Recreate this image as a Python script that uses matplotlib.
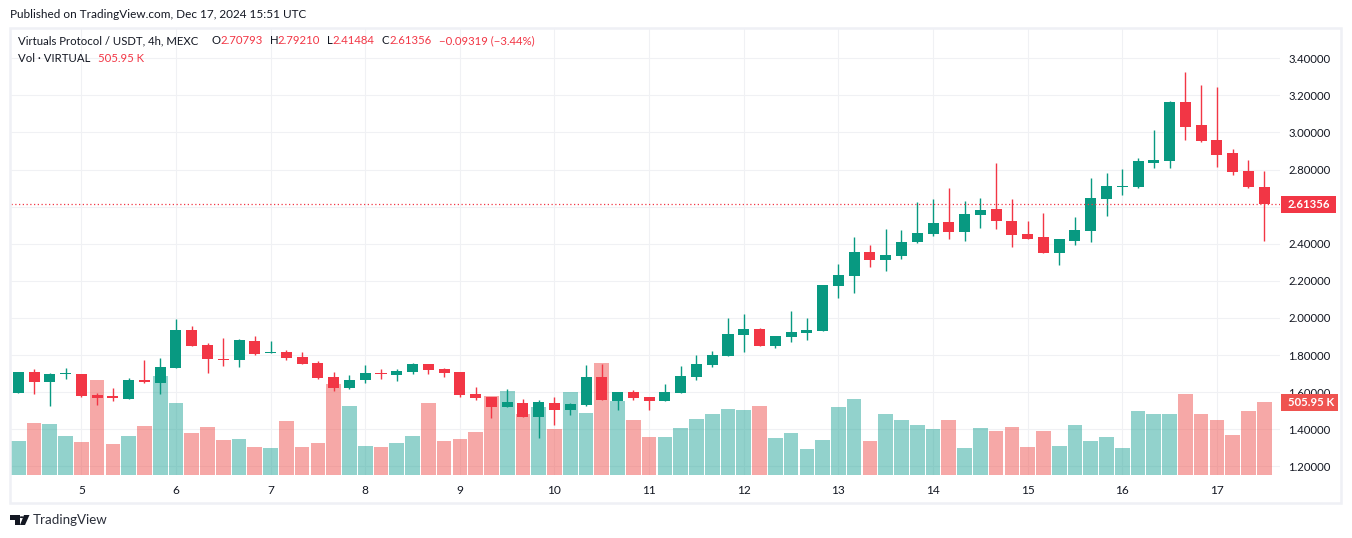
#!/usr/bin/env python3
"""Virtuals Protocol / USDT 4h candles with volume, TradingView style."""
import matplotlib
matplotlib.use("Agg")
import matplotlib.pyplot as plt
from matplotlib.patches import Circle, Polygon, Rectangle

W, H = 1352, 538
UP = "#089981"
DOWN = "#F23645"
VOL_UP = "#26A69A"
VOL_DOWN = "#EF5350"
GRID = "#F0F1F4"
BORDER = "#EFF0F5"
TEXT = "#131722"

opens = [1.595, 1.708, 1.655, 1.699, 1.698, 1.584, 1.579, 1.563, 1.665, 1.649,
         1.730, 1.935, 1.854, 1.779, 1.773, 1.876, 1.811, 1.816, 1.789, 1.757,
         1.681, 1.622, 1.665, 1.703, 1.692, 1.708, 1.752, 1.725, 1.708, 1.590,
         1.574, 1.520, 1.541, 1.466, 1.541, 1.504, 1.531, 1.681, 1.552, 1.601,
         1.574, 1.552, 1.595, 1.682, 1.746, 1.795, 1.908, 1.940, 1.849, 1.897,
         1.919, 1.930, 2.172, 2.226, 2.356, 2.312, 2.334, 2.409, 2.453, 2.517,
         2.463, 2.555, 2.587, 2.523, 2.453, 2.436, 2.350, 2.415, 2.469, 2.641,
         2.708, 2.706, 2.835, 2.846, 3.164, 3.040, 2.960, 2.889, 2.792, 2.70793]
closes = [1.708, 1.655, 1.698, 1.703, 1.579, 1.568, 1.568, 1.665, 1.655, 1.735,
          1.935, 1.849, 1.779, 1.773, 1.881, 1.805, 1.816, 1.784, 1.752, 1.676,
          1.622, 1.665, 1.703, 1.699, 1.714, 1.752, 1.719, 1.703, 1.584, 1.568,
          1.520, 1.547, 1.466, 1.547, 1.504, 1.536, 1.681, 1.558, 1.601, 1.568,
          1.552, 1.601, 1.687, 1.752, 1.800, 1.913, 1.940, 1.849, 1.903, 1.924,
          1.935, 2.178, 2.232, 2.356, 2.312, 2.339, 2.409, 2.458, 2.512, 2.463,
          2.560, 2.582, 2.523, 2.447, 2.426, 2.350, 2.426, 2.474, 2.647, 2.711,
          2.711, 2.846, 2.852, 3.164, 3.030, 2.954, 2.879, 2.787, 2.706, 2.61356]
highs = [1.708, 1.725, 1.703, 1.730, 1.698, 1.595, 1.622, 1.676, 1.773, 1.784,
         1.994, 1.957, 1.865, 1.892, 1.886, 1.903, 1.876, 1.827, 1.816, 1.768,
         1.708, 1.692, 1.746, 1.725, 1.725, 1.757, 1.752, 1.730, 1.708, 1.628,
         1.574, 1.617, 1.563, 1.558, 1.574, 1.541, 1.746, 1.752, 1.601, 1.611,
         1.574, 1.644, 1.741, 1.800, 1.822, 2.000, 2.021, 1.946, 1.903, 2.037,
         2.000, 2.178, 2.291, 2.436, 2.393, 2.480, 2.474, 2.625, 2.641, 2.700,
         2.631, 2.647, 2.836, 2.641, 2.523, 2.566, 2.426, 2.544, 2.755, 2.782,
         2.803, 2.862, 3.013, 3.170, 3.326, 3.256, 3.245, 2.911, 2.852, 2.79210]
lows = [1.595, 1.590, 1.525, 1.671, 1.574, 1.531, 1.552, 1.563, 1.649, 1.590,
        1.730, 1.849, 1.703, 1.741, 1.735, 1.800, 1.811, 1.773, 1.752, 1.671,
        1.606, 1.617, 1.649, 1.671, 1.660, 1.698, 1.698, 1.681, 1.574, 1.558,
        1.460, 1.520, 1.466, 1.353, 1.423, 1.477, 1.525, 1.558, 1.504, 1.558,
        1.504, 1.552, 1.595, 1.665, 1.736, 1.795, 1.816, 1.849, 1.838, 1.870,
        1.881, 1.930, 2.108, 2.135, 2.275, 2.253, 2.318, 2.404, 2.442, 2.426,
        2.415, 2.485, 2.480, 2.382, 2.426, 2.350, 2.286, 2.393, 2.410, 2.550,
        2.663, 2.701, 2.809, 2.809, 2.960, 2.949, 2.814, 2.771, 2.701, 2.41484]
# volume in thousands, last bar taken from the legend
volumes = [236, 360, 353, 270, 229, 658, 215, 270, 340, 686,
           499, 291, 333, 243, 249, 194, 187, 374, 194, 222,
           631, 478, 201, 194, 222, 270, 499, 236, 249, 298,
           547, 582, 423, 471, 319, 575, 430, 776, 513, 381,
           263, 263, 326, 388, 423, 457, 450, 478, 256, 291,
           180, 243, 471, 527, 236, 423, 381, 347, 319, 381,
           187, 326, 305, 333, 194, 305, 201, 347, 236, 263,
           187, 444, 423, 423, 561, 423, 381, 277, 444, 505.95]

price_ticks = [1.2, 1.4, 1.6, 1.8, 2.0, 2.2, 2.4, 2.8, 3.0, 3.2, 3.4]
grid_ticks = [1.2, 1.4, 1.6, 1.8, 2.0, 2.2, 2.4, 2.6, 2.8, 3.0, 3.2, 3.4]
day_ticks = [4, 10, 16, 22, 28, 34, 40, 46, 52, 58, 64, 70, 76]
day_labels = ["5", "6", "7", "8", "9", "10", "11", "12", "13", "14", "15", "16", "17"]
last_price = 2.61356
last_volume = 505.95

plt.rcParams["font.family"] = ["Lato", "DejaVu Sans"]
plt.rcParams["font.size"] = 8.3


def frame(x0, y0, x1, y1):
    # pixel box (origin top-left) to figure fractions
    return [x0 / W, 1 - y1 / H, (x1 - x0) / W, (y1 - y0) / H]


def ftext(x, y, s, **kw):
    kw.setdefault("color", TEXT)
    kw.setdefault("va", "center")
    return fig.text(x / W, 1 - y / H, s, **kw)


fig = plt.figure(figsize=(W / 100, H / 100), dpi=100, facecolor="white")

# outer panel border
fig.add_artist(Rectangle((10 / W, 1 - 503 / H), 1331 / W, 475 / H, transform=fig.transFigure,
                         fill=False, ec=BORDER, lw=1.8))

# three layers: grid and scales, translucent volume, candles
ax = fig.add_axes(frame(11, 29, 1280, 475))
vol_ax = fig.add_axes(frame(11, 29, 1280, 475), sharex=ax)
candle_ax = fig.add_axes(frame(11, 29, 1280, 475), sharex=ax, sharey=ax)

x = list(range(len(closes)))
is_up = [c >= o for o, c in zip(opens, closes)]
colors = [UP if u else DOWN for u in is_up]

vol_ax.bar(x, volumes, width=0.93, alpha=0.5, antialiased=False,
           color=[VOL_UP if u else VOL_DOWN for u in is_up])
vol_ax.set_ylim(0, 3091)

candle_ax.vlines(x, lows, highs, colors=colors, lw=1.0, zorder=3)
candle_ax.bar(x, [abs(c - o) for o, c in zip(opens, closes)],
              bottom=[min(o, c) for o, c in zip(opens, closes)],
              width=0.70, color=colors, antialiased=False, zorder=4)
candle_ax.axhline(last_price, color=DOWN, lw=0.9, ls=(0, (1, 2)), zorder=5)

ax.set_xlim(-0.46, 80.0)
ax.set_ylim(1.153, 3.558)
ax.set_yticks(price_ticks)
ax.set_yticklabels([f"{p:.5f}" for p in price_ticks])
ax.yaxis.tick_right()
ax.set_xticks(day_ticks)
ax.set_xticklabels(day_labels)
ax.tick_params(axis="y", length=0, pad=5.8, labelcolor=TEXT, labelsize=8.2)
ax.tick_params(axis="x", length=0, pad=7, labelcolor=TEXT, labelsize=8.6)
ax.grid(axis="x", color=GRID, lw=0.8)
ax.hlines(grid_ticks, -0.46, 80.0, color=GRID, lw=0.8, zorder=0)
ax.set_axisbelow(True)

for a in (vol_ax, candle_ax):
    a.patch.set_visible(False)
    a.tick_params(left=False, right=False, bottom=False, labelleft=False,
                  labelright=False, labelbottom=False)
for a in (ax, vol_ax, candle_ax):
    for s in a.spines.values():
        s.set_visible(False)

# header texts
ftext(10, 15, "Published on TradingView.com, Dec 17, 2024 15:51 UTC", fontsize=8.5)
ftext(18, 41, "Virtuals Protocol / USDT, 4h, MEXC", fontsize=8.2)
for px, vx, lab, val in [(212, 220, "O", "2.70793"), (270, 277, "H", "2.79210"),
                         (327, 332, "L", "2.41484"), (382, 389, "C", "2.61356")]:
    ftext(px, 41, lab, fontsize=8.2)
    ftext(vx, 41, val, color=DOWN, fontsize=8.2)
ftext(439, 41, "\u22120.09319 (\u22123.44%)", color=DOWN, fontsize=8.2)
ftext(18, 58, "Vol \u00b7 VIRTUAL", fontsize=8.2)
ftext(98, 58, f"{last_volume:.2f} K", color=DOWN, fontsize=8.2)

# price and volume tags on the right scale
fig.add_artist(Rectangle((1281 / W, 1 - 213 / H), 55 / W, 17 / H,
                         transform=fig.transFigure, fc=DOWN, ec="none", zorder=6))
ftext(1288, 204.5, f"{last_price:.5f}", color="white", fontweight="bold", fontsize=8.2, zorder=7)
fig.add_artist(Rectangle((1281 / W, 1 - 411 / H), 57 / W, 17 / H,
                         transform=fig.transFigure, fc=VOL_DOWN, ec="none", zorder=6))
ftext(1288, 402.5, f"{last_volume:.2f} K", color="white", fontweight="bold", fontsize=8.2, zorder=7)


# footer logo
def logo_pts(pts):
    return [(px / W, 1 - py / H) for px, py in pts]


fig.add_artist(Polygon(logo_pts([(10, 515), (19.5, 515), (19.5, 525), (15, 525), (15, 519.5), (10, 519.5)]),
                       transform=fig.transFigure, fc=TEXT, ec="none"))
fig.add_artist(Polygon(logo_pts([(24, 515), (29.5, 515), (25, 525), (20, 525)]),
                       transform=fig.transFigure, fc=TEXT, ec="none"))
fig.add_artist(Circle((21.7 / W, 1 - 517.2 / H), 2.2 / W, transform=fig.transFigure, fc=TEXT, ec="none"))
ftext(33, 520.5, "TradingView", fontsize=9.6, color="#2A2E39")

fig.savefig("out.png", dpi=100)
